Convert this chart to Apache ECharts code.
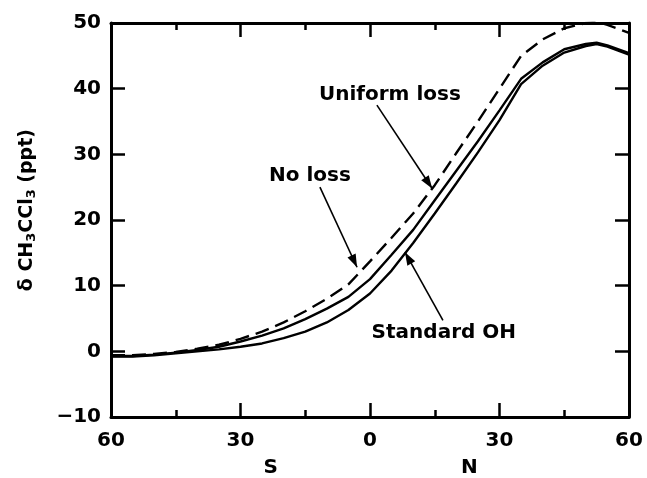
<!DOCTYPE html>
<html>
<head>
<meta charset="utf-8">
<script src="https://cdn.jsdelivr.net/npm/echarts@6/dist/echarts.min.js"></script>
<style>
  html, body { margin: 0; padding: 0; background: #fff; }
  #chart { width: 647px; height: 478px; }
</style>
</head>
<body>
<div id="chart"></div>
<script>
// Latitude grid (negative = south) and CH3CCl3 deviations (ppt)
const latitudes = [-60, -55, -50, -45, -40, -35, -30, -25, -20, -15, -10, -5, 0, 5, 10, 15, 20, 25, 30, 35, 40, 45, 50, 52.5, 55, 60];
const noLoss      = [-0.6, -0.6, -0.4, -0.1, 0.4, 1.0, 1.9, 3.0, 4.4, 6.1, 8.0, 10.2, 13.7, 17.3, 21.0, 25.3, 30.2, 35.0, 40.0, 45.0, 47.5, 49.2, 50.0, 50.2, 49.7, 48.5];
const uniformLoss = [-0.7, -0.7, -0.5, -0.2, 0.2, 0.7, 1.5, 2.4, 3.5, 4.9, 6.5, 8.3, 11.0, 14.7, 18.5, 23.0, 27.5, 32.0, 36.7, 41.5, 44.0, 46.0, 46.8, 47.0, 46.6, 45.4];
const standardOH  = [-0.8, -0.8, -0.6, -0.3, 0.0, 0.3, 0.7, 1.2, 2.0, 3.0, 4.4, 6.3, 8.8, 12.3, 16.5, 21.0, 25.6, 30.3, 35.2, 40.7, 43.5, 45.5, 46.5, 46.8, 46.4, 45.2];

// Annotation labels with the curve point each arrow points to: [lat, ppt]
const notes = [
  { text: 'Uniform loss', at: [4.6, 39.0], from: [1.6, 37.5], to: [14.4, 24.8] },
  { text: 'No loss',      at: [-13.9, 26.8], from: [-11.6, 25.0], to: [-3.0, 12.8] },
  { text: 'Standard OH',  at: [17.1, 2.8], from: [16.9, 4.7], to: [8.1, 15.1] }
];
const hemispheres = [{ text: 'S', lat: -23 }, { text: 'N', lat: 23 }];

const FONT = 'DejaVu Sans';
const pair = (ys) => latitudes.map((x, i) => [x, ys[i]]);

const chart = echarts.init(document.getElementById('chart'), null, { renderer: 'canvas' });

const tickStyle = { color: '#000', width: 2.5 };
const xCommon = {
  type: 'value', min: -60, max: 60, interval: 30,
  axisLine: { show: true, onZero: false, lineStyle: { color: '#000', width: 3 } },
  axisTick: { show: true, inside: true, length: 14, lineStyle: tickStyle },
  minorTick: { show: true, splitNumber: 2, length: 7, lineStyle: tickStyle },
  splitLine: { show: false }
};
const yCommon = {
  type: 'value', min: -10, max: 50, interval: 10,
  axisLine: { show: true, onZero: false, lineStyle: { color: '#000', width: 3 } },
  axisTick: { show: true, inside: true, length: 14, lineStyle: tickStyle },
  splitLine: { show: false }
};

const lineSeries = (name, ys, dashed) => ({
  name, type: 'line', data: pair(ys), symbol: 'none', smooth: false,
  clip: true,
  lineStyle: { color: '#000', width: 2.4, type: dashed ? [14, 7] : 'solid' },
  z: 3
});

chart.setOption({
  animation: false,
  backgroundColor: '#fff',
  grid: { left: 111, right: 18, top: 23, bottom: 61 },
  xAxis: [
    Object.assign({}, xCommon, {
      position: 'bottom',
      axisLabel: {
        show: true, margin: 14, color: '#000', fontFamily: FONT, fontWeight: 'bold', fontSize: 20,
        formatter: (v) => String(Math.abs(v))
      }
    }),
    Object.assign({}, xCommon, { position: 'top', axisLabel: { show: false } })
  ],
  yAxis: [
    Object.assign({}, yCommon, {
      position: 'left',
      axisLabel: {
        show: true, margin: 10, color: '#000', fontFamily: FONT, fontWeight: 'bold', fontSize: 20,
        formatter: (v) => String(v).replace('-', '\u2212')
      }
    }),
    Object.assign({}, yCommon, { position: 'right', axisLabel: { show: false } })
  ],
  series: [
    lineSeries('No loss', noLoss, true),
    lineSeries('Uniform loss', uniformLoss, false),
    lineSeries('Standard OH', standardOH, false)
  ]
});

// Text labels, arrows and axis title placed through the chart's own scales
function px(p) { return chart.convertToPixel({ xAxisIndex: 0, yAxisIndex: 0 }, p); }

const graphics = [];
notes.forEach((n) => {
  const c = px(n.at), a = px(n.from), b = px(n.to);
  graphics.push({
    type: 'text', x: c[0], y: c[1],
    style: { text: n.text, fill: '#000', font: 'bold 20px "' + FONT + '"', textAlign: 'center', textVerticalAlign: 'middle' }
  });
  graphics.push({
    type: 'line', shape: { x1: a[0], y1: a[1], x2: b[0], y2: b[1] },
    style: { stroke: '#000', lineWidth: 1.6 }
  });
  const ang = Math.atan2(b[1] - a[1], b[0] - a[0]);
  const L = 13, W = 4.5;
  const bx = b[0] - L * Math.cos(ang), by = b[1] - L * Math.sin(ang);
  graphics.push({
    type: 'polygon',
    shape: { points: [
      [b[0], b[1]],
      [bx + W * Math.sin(ang), by - W * Math.cos(ang)],
      [bx - W * Math.sin(ang), by + W * Math.cos(ang)]
    ] },
    style: { fill: '#000' }
  });
});
hemispheres.forEach((h) => {
  const p = px([h.lat, -10]);
  graphics.push({
    type: 'text', x: p[0], y: p[1] + 51,
    style: { text: h.text, fill: '#000', font: 'bold 20px "' + FONT + '"', textAlign: 'center', textVerticalAlign: 'middle' }
  });
});
const yMid = px([-60, 21.5]);
graphics.push({
  type: 'text', x: yMid[0] - 84, y: yMid[1], rotation: Math.PI / 2,
  style: {
    text: '{a|\u03b4 CH}{s|3}{a|CCl}{s|3}{a| (ppt)}',
    textAlign: 'center', textVerticalAlign: 'middle',
    rich: {
      a: { fontFamily: FONT, fontWeight: 'bold', fontSize: 19, fill: '#000', color: '#000' },
      s: { fontFamily: FONT, fontWeight: 'bold', fontSize: 13, fill: '#000', color: '#000', padding: [10, 0, 0, 0] }
    }
  }
});
chart.setOption({ graphic: graphics });
</script>
</body>
</html>
